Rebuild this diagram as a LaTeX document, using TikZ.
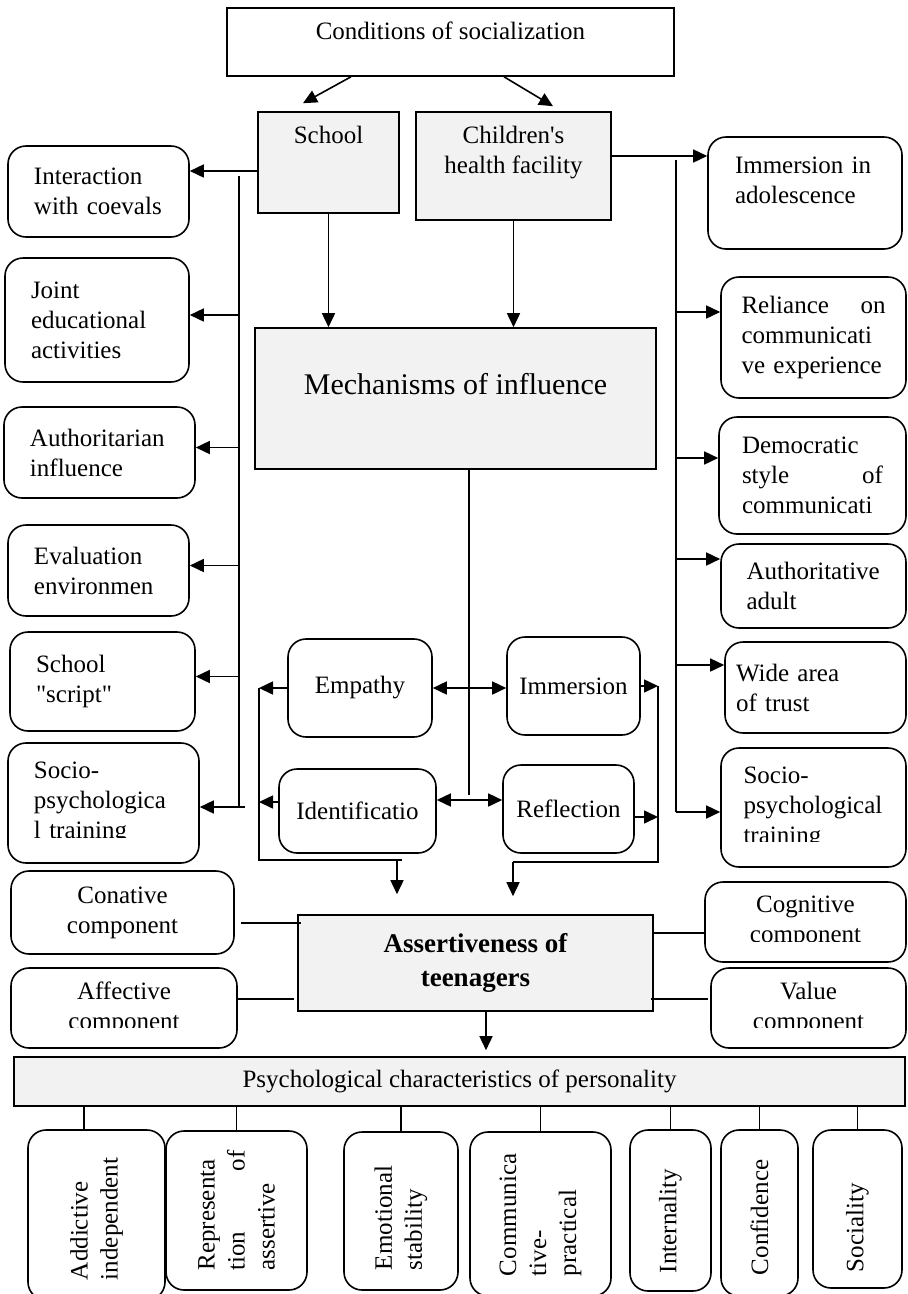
\documentclass[tikz,border=0pt]{standalone}
\usepackage{fontspec}
\setmainfont{Liberation Serif}
\usepackage{graphicx}
\usetikzlibrary{arrows.meta}
\definecolor{boxgray}{HTML}{F2F2F2}
\hyphenpenalty=10000

\tikzset{
  rbox/.style={draw, rounded corners=18pt, fill=white, inner xsep=6pt, inner ysep=4pt, align=left},
  gbox/.style={draw, fill=boxgray, inner sep=4pt, align=center},
  vbox/.style={draw, rounded corners=18pt, fill=white, inner sep=0pt},
  topline/.style={anchor=north, inner sep=0pt, align=center, yshift=#1},
}

\begin{document}
\begin{tikzpicture}[x=1pt, y=-1pt, line width=1.6pt,
                    >={Triangle[length=14pt,width=13pt]},
                    font=\fontsize{25}{30}\selectfont]
  \useasboundingbox (0,0) rectangle (908,1294);

  % upper boxes
  \node[draw, minimum width=447pt, minimum height=68pt,
        label={[topline=-13.6pt]north:Conditions of socialization}] (cond) at (450.5,42) {};
  \node[gbox, minimum width=141pt, minimum height=101pt,
        label={[topline=-14.6pt]north:School}] (school) at (328.5,162.5) {};
  \node[gbox, minimum width=195pt, minimum height=108pt,
        label={[topline=-14.6pt]north:Children\textquotesingle s\\health facility}] (health) at (513.5,166) {};
  \node[gbox, minimum width=401pt, minimum height=141pt,
        label={[topline=-45pt, font=\fontsize{30}{36}\selectfont]north:Mechanisms of influence}] (mech) at (455.5,398.5) {};

  % school side
  \node[rbox, minimum width=181pt, minimum height=91pt, text width=129pt] (coev) at (98.5,191.5) {Interaction\\with coevals};
  \node[rbox, minimum width=184pt, minimum height=124pt, text width=132pt] (joint) at (97,320) {Joint\\educational\\activities};
  \node[rbox, minimum width=191pt, minimum height=91pt, text width=139pt] (author) at (99.5,452.5) {Authoritarian\\influence};
  \node[rbox, minimum width=181pt, minimum height=91pt, text width=129pt] (evalenv) at (98.5,570.5) {Evaluation\\environmen};
  \node[rbox, minimum width=185pt, minimum height=99pt, text width=133pt] (script) at (102.5,681.5) {School\\\textquotedbl script\textquotedbl};
  \node[rbox, minimum width=191pt, minimum height=120pt, text width=139pt] (sociol) at (103.5,803) {Socio-\\psychologica\\l training};

  % health facility side
  \node[rbox, minimum width=194pt, minimum height=112pt,
        label={[topline=-20pt, text width=140pt, align=left]north:Immersion in\\adolescence}] (adol) at (805,193) {};
  \node[rbox, minimum width=185pt, minimum height=121pt, text width=144pt] (reli) at (813.5,337.5) {Reliance\hfill on\\communicati\\ve experience};
  \node[rbox, minimum width=187pt, minimum height=117pt, text width=141pt] (democ) at (812.5,475.5) {Democratic\\style\hfill of\\communicati};
  \node[rbox, minimum width=185pt, minimum height=84pt, text width=134pt] (adult) at (813.5,586) {Authoritative\\adult};
  \node[rbox, minimum width=181pt, minimum height=91pt, text width=159pt] (trust) at (815.5,687.5) {Wide area\\of trust};
  \node[rbox, minimum width=185pt, minimum height=119pt, text width=140pt] (socior) at (813.5,807.5) {Socio-\\psychological\\training};

  % mechanisms
  \node[rbox, minimum width=144pt, minimum height=98pt] (emp) at (360,688) {Empathy};
  \node[rbox, minimum width=133pt, minimum height=98pt] (imm) at (573.5,686) {Immersion};
  \node[rbox, minimum width=157pt, minimum height=84pt] (ident) at (357.5,811) {Identificatio};
  \node[rbox, minimum width=131pt, minimum height=88pt] (refl) at (568.5,809) {Reflection};

  % assertiveness and its components
  \node[gbox, minimum width=355pt, minimum height=96pt,
        font=\fontsize{27}{34}\selectfont\bfseries] (assert) at (475.5,963) {Assertiveness of\\teenagers};
  \node[rbox, minimum width=223pt, minimum height=83pt, align=center] (conat) at (122.5,912.5) {Conative\\component};
  \node[rbox, minimum width=226pt, minimum height=80pt, align=center] (affect) at (124,1008) {Affective\\component};
  \node[rbox, minimum width=201pt, minimum height=80pt, align=center] (cognit) at (805.5,922) {Cognitive\\component};
  \node[rbox, minimum width=195pt, minimum height=80pt, align=center] (valuec) at (808.5,1008) {Value\\component};

  % cut off text lines
  \fill[white] ([xshift=20pt,yshift=2pt]sociol.south west) rectangle ([xshift=-20pt,yshift=26pt]sociol.south east);
  \fill[white] ([xshift=20pt,yshift=2pt]socior.south west) rectangle ([xshift=-20pt,yshift=25.5pt]socior.south east);
  \fill[white] ([xshift=20pt,yshift=2pt]affect.south west) rectangle ([xshift=-20pt,yshift=21pt]affect.south east);
  \fill[white] ([xshift=20pt,yshift=2pt]cognit.south west) rectangle ([xshift=-20pt,yshift=21pt]cognit.south east);
  \fill[white] ([xshift=20pt,yshift=2pt]valuec.south west) rectangle ([xshift=-20pt,yshift=21pt]valuec.south east);

  % characteristics
  \node[gbox, minimum width=891pt, minimum height=49pt] (psych) at (459.5,1081.5) {Psychological characteristics of personality};
  \node[vbox, minimum width=137pt, minimum height=170pt] (addict) at (96.5,1215) {\rotatebox{90}{\parbox{130pt}{Addictive\\independent}}};
  \node[vbox, minimum width=141pt, minimum height=159pt] (repres) at (236.5,1210.5) {\rotatebox{90}{\parbox{120pt}{Representa\\tion\hfill of\\assertive}}};
  \node[vbox, minimum width=114pt, minimum height=158pt] (emot) at (401,1211) {\rotatebox{90}{\parbox{118pt}{Emotional\\stability}}};
  \node[vbox, minimum width=141pt, minimum height=164pt] (commun) at (540.5,1214) {\rotatebox{90}{\parbox{124pt}{Communica\\tive-\\practical}}};
  \node[vbox, minimum width=81pt, minimum height=161pt] (intern) at (670.5,1210.5) {\rotatebox{90}{\parbox{125pt}{Internality}}};
  \node[vbox, minimum width=77pt, minimum height=166pt] (confid) at (759.5,1213) {\rotatebox{90}{\parbox{124pt}{Confidence}}};
  \node[vbox, minimum width=89pt, minimum height=158pt] (social) at (857.5,1209) {\rotatebox{90}{\parbox{126pt}{Sociality}}};

  % connectors
  \draw[->] ([xshift=-99.5pt]cond.south) -- ([xshift=-25.5pt,yshift=8pt]school.north);
  \draw[->] ([xshift=53.5pt]cond.south) -- ([xshift=39.5pt,yshift=5pt]health.north);
  \draw[->] (school) -- (school |- mech.north);
  \draw[->] (health) -- (health |- mech.north);

  \coordinate (lbus) at (239,176);
  \coordinate (lbusend) at (239,807);
  \draw (lbus) -- (lbusend);
  \draw[->] ([yshift=-8.5pt]school.west) -- ([yshift=-8.5pt]school.west -| coev.east);
  \foreach \n in {joint,author,evalenv,script}
    \draw[->] ([yshift=5pt]lbus |- \n.east) -- ([yshift=5pt]\n.east);
  \draw[->] ([xshift=6pt]lbusend) -- (lbusend -| sociol.east);

  \coordinate (rbus) at (676,160);
  \coordinate (rbusend) at (676,812);
  \draw (rbus) -- (rbusend);
  \draw[->] ([yshift=10pt]health.east) -- ([yshift=10pt]health.east -| adol.west);
  \foreach \n/\s in {reli/25.5pt,democ/17.5pt,adult/27pt,trust/22.5pt}
    \draw[->] ([yshift=\s]rbus |- \n.west) -- ([yshift=\s]\n.west);
  \draw[->] (rbusend) -- (rbusend -| socior.west);

  \draw ([xshift=13.5pt]mech.south) -- ([xshift=13.5pt,yshift=16pt]mech.south |- ident.east);
  \draw[<->] (emp.east) -- (emp.east -| imm.west);
  \draw[<->] ([yshift=11pt]ident.east) -- ([yshift=11pt]ident.east -| refl.west);

  \coordinate (lcorner) at (259,860);
  \coordinate (ldrop) at (397,860);
  \draw[->] (emp.west) -- (emp.west -| lcorner);
  \draw[->] ([yshift=9pt]ident.west) -- ([yshift=9pt]ident.west -| lcorner);
  \draw (lcorner |- emp.west) -- (lcorner) -- ([xshift=5pt]ldrop);
  \draw[->, shorten >=20pt] (ldrop) -- (ldrop |- assert.north);

  \coordinate (rcorner) at (658,862);
  \coordinate (rdrop) at (513,862);
  \draw[->] (imm.east) -- (imm.east -| rcorner);
  \draw[->] ([yshift=-8pt]refl.east) -- ([yshift=-8pt]refl.east -| rcorner);
  \draw (rcorner |- imm.east) -- (rcorner) -- (rdrop);
  \draw[->, shorten >=18pt] (rdrop) -- (rdrop |- assert.north);

  \draw ([xshift=6pt,yshift=-10.5pt]conat.east) -- ([xshift=4pt,yshift=-10.5pt]conat.east -| assert.west);
  \draw ([yshift=9pt]affect.east) -- ([xshift=-3pt,yshift=9pt]affect.east -| assert.west);
  \draw ([yshift=-11pt]cognit.west) -- ([yshift=-11pt]cognit.west -| assert.east);
  \draw ([xshift=-2pt,yshift=9pt]valuec.west) -- ([xshift=-3pt,yshift=9pt]valuec.west -| assert.east);
  \draw[->, shorten >=6pt] ([xshift=10.5pt]assert.south) -- ([xshift=10.5pt]assert.south |- psych.north);

  \draw ([xshift=-12.5pt]addict.north) -- ([xshift=-12.5pt]addict.north |- psych.south);
  \foreach \n in {repres,emot,commun,intern,confid,social}
    \draw (\n.north) -- (\n.north |- psych.south);
\end{tikzpicture}
\end{document}
